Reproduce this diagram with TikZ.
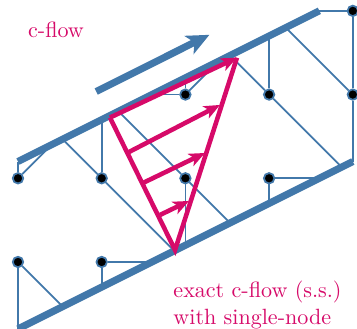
\documentclass[tikz,border=0pt]{standalone}
\usepackage{xcolor}
\usetikzlibrary{arrows.meta}
\definecolor{wallblue}{RGB}{66,120,170}
\definecolor{flowpink}{RGB}{214,10,105}

\begin{document}
\begin{tikzpicture}[
          wall/.style={draw=wallblue,line width=2.4pt},
          link/.style={draw=wallblue,line width=0.6pt},
          dot/.style={circle,fill=black,draw=wallblue,line width=0.6pt,
                      minimum size=0.125cm,inner sep=0pt},
          flow/.style={draw=flowpink,line width=1.55pt},
          flowarr/.style={flow,-{Stealth[length=0.19cm,width=0.16cm,inset=0.05cm]}},
          lbl/.style={text=flowpink,align=left,inner sep=0pt,scale=0.75,transform shape}]
        \useasboundingbox (-0.215,-0.8) rectangle (4.05,3.13);
        % wall ends
        \coordinate (ua) at (0,1.2);
        \coordinate (ub) at (3.6,3);
        \coordinate (la) at (0,-0.8);
        \coordinate (lb) at (4,1.2);
        % lattice sites
        \node[dot] (s00) at (0,0) {};
        \node[dot] (s10) at (1,0) {};
        \node[dot] (s01) at (0,1) {};
        \node[dot] (s11) at (1,1) {};
        \node[dot] (s21) at (2,1) {};
        \node[dot] (s31) at (3,1) {};
        \node[dot] (s22) at (2,2) {};
        \node[dot] (s32) at (3,2) {};
        \node[dot] (s42) at (4,2) {};
        \node[dot] (s43) at (4,3) {};
        % ends on the lower wall
        \coordinate (l1) at (0.533,-0.533);
        \coordinate (l2) at (1,-0.3);
        \coordinate (l3) at (1.6,0);
        \coordinate (l4) at (1.867,0.133);
        \coordinate (l5) at (2,0.2);
        \coordinate (l6) at (2.533,0.467);
        \coordinate (l7) at (3,0.7);
        \coordinate (l8) at (3.6,1);
        \coordinate (l9) at (3.867,1.133);
        % ends on the upper wall
        \coordinate (u1) at (0.4,1.4);
        \coordinate (u2) at (0.533,1.467);
        \coordinate (u3) at (1,1.7);
        \coordinate (u4) at (1.2,1.8);
        \coordinate (u5) at (1.6,2);
        \coordinate (u6) at (2,2.2);
        \coordinate (u7) at (2.4,2.4);
        \coordinate (u8) at (2.533,2.467);
        \coordinate (u9) at (3,2.7);
        \coordinate (u10) at (3.2,2.8);
        % links
        \draw[link] (s00) -- (la);
        \draw[link] (s00) -- (l1);
        \draw[link] (s10) -- (l2);
        \draw[link] (s10) -- (l3);
        \draw[link] (s01) -- (ua);
        \draw[link] (s01) -- (u1);
        \draw[link] (s11) -- (u2);
        \draw[link] (s11) -- (u3);
        \draw[link] (s11) -- (l4);
        \draw[link] (s21) -- (u4);
        \draw[link] (s21) -- (l5);
        \draw[link] (s21) -- (l6);
        \draw[link] (s31) -- (l7);
        \draw[link] (s31) -- (l8);
        \draw[link] (s22) -- (u5);
        \draw[link] (s22) -- (u6);
        \draw[link] (s22) -- (u7);
        \draw[link] (s32) -- (u8);
        \draw[link] (s32) -- (u9);
        \draw[link] (s32) -- (l9);
        \draw[link] (s42) -- (u10);
        \draw[link] (s42) -- (s43);
        \draw[link] (s42) -- (lb);
        \draw[link] (s43) -- (ub);
        % walls
        \draw[wall] (ua) -- (ub);
        \draw[wall] (la) -- (lb);
        % direction
        \coordinate (da) at (0.934,2.036);
        \coordinate (db) at (2.287,2.714);
        \draw[wall,-{Stealth[length=0.27cm,width=0.24cm,inset=0.07cm]}] (da) -- (db);
        % profile
        \coordinate (ta) at (1.099,1.725);
        \coordinate (tb) at (2.616,2.44);
        \coordinate (tc) at (1.876,0.143);
        \coordinate (a1) at (1.326,1.314);
        \coordinate (b1) at (2.413,1.876);
        \coordinate (a2) at (1.493,0.944);
        \coordinate (b2) at (2.234,1.302);
        \coordinate (a3) at (1.697,0.562);
        \coordinate (b3) at (2.043,0.729);
        \draw[flow] (tb) -- (tc) -- (ta);
        \draw[flowarr] (ta) -- (tb);
        \draw[flowarr] (a1) -- (b1);
        \draw[flowarr] (a2) -- (b2);
        \draw[flowarr] (a3) -- (b3);
        % labels
        \node[lbl] (cf) at (0.454,2.77) {c-flow};
        \node[lbl,anchor=west] (ex) at (1.852,-0.514) {exact c-flow (s.s.)\\with single-node};
      \end{tikzpicture}
\end{document}
